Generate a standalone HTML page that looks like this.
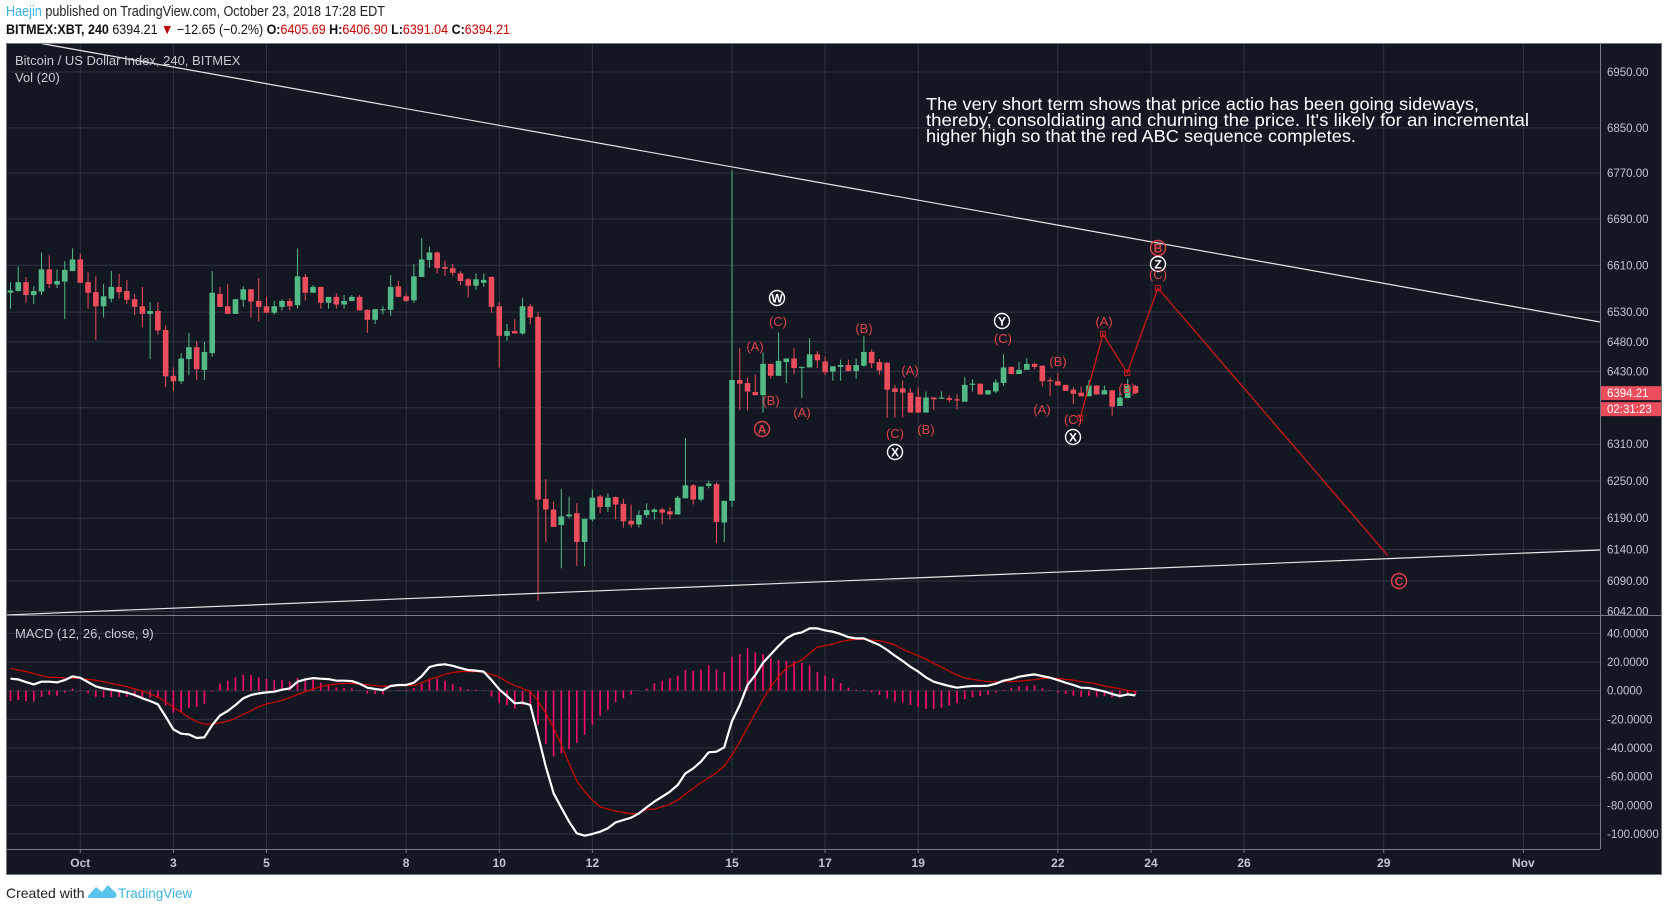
<!DOCTYPE html>
<html><head><meta charset="utf-8">
<style>
html,body{margin:0;padding:0;background:#fff;}
svg{display:block;font-family:"Liberation Sans",sans-serif;}
</style></head>
<body>
<svg id="chart" xmlns="http://www.w3.org/2000/svg" width="1668" height="911" viewBox="0 0 1668 911">
  <rect x="0" y="0" width="1668" height="911" fill="#ffffff"/>
  <text x="6" y="16" font-size="14.5" fill="#222" textLength="379" lengthAdjust="spacingAndGlyphs"><tspan fill="#3bb3e4">Haejin</tspan> published on TradingView.com, October 23, 2018 17:28 EDT</text>
  <text x="6" y="34" font-size="14" fill="#111" textLength="504" lengthAdjust="spacingAndGlyphs"><tspan font-weight="bold">BITMEX:XBT, 240</tspan> 6394.21 <tspan fill="#b00">▼</tspan> −12.65 (−0.2%) <tspan font-weight="bold">O:</tspan><tspan fill="#c00">6405.69</tspan> <tspan font-weight="bold">H:</tspan><tspan fill="#c00">6406.90</tspan> <tspan font-weight="bold">L:</tspan><tspan fill="#c00">6391.04</tspan> <tspan font-weight="bold">C:</tspan><tspan fill="#c00">6394.21</tspan></text>
  <rect x="6.5" y="43.5" width="1655" height="831" fill="#131722" stroke="#787b86"/>
  <g id="grid"></g>
  <g id="macdG"></g>
  <g id="candlesG"></g>
  <g id="drawG"></g>
  <g id="axisG"></g>
  <text x="15" y="65" font-size="13" fill="#c8cad0">Bitcoin / US Dollar Index, 240, BITMEX</text>
  <text x="15" y="82" font-size="13" fill="#c8cad0">Vol (20)</text>
  <text x="15" y="638" font-size="13" fill="#c8cad0">MACD (12, 26, close, 9)</text>
  <g font-size="17.5" fill="#ffffff">
    <text x="926" y="110" textLength="553" lengthAdjust="spacingAndGlyphs">The very short term shows that price actio has been going sideways,</text>
    <text x="926" y="126" textLength="603" lengthAdjust="spacingAndGlyphs">thereby, consoldiating and churning the price. It's likely for an incremental</text>
    <text x="926" y="142" textLength="430" lengthAdjust="spacingAndGlyphs">higher high so that the red ABC sequence completes.</text>
  </g>
  <text x="6" y="898" font-size="14" fill="#222">Created with</text>
  <g>
    <path d="M88 896 L96 887 L102 892 L108 885 L116 893 Q118 898 112 898 L92 898 Q86 898 88 896 Z" fill="#5bc2ec"/>
    <text x="118" y="898" font-size="13.5" fill="#3bb3e4">TradingView</text>
  </g>
</svg>
<script>
// ---- data ----
const opens = [6563,6566,6581,6559,6565,6603,6577,6582,6600,6620,6581,6564,6540,6553,6573,6566,6552,6540,6527,6532,6500,6423,6414,6451,6471,6433,6461,6561,6540,6527,6551,6569,6549,6540,6529,6539,6549,6542,6590,6563,6573,6546,6556,6543,6549,6556,6534,6517,6534,6534,6574,6557,6550,6590,6619,6632,6607,6605,6596,6586,6575,6580,6590,6540,6490,6498,6494,6540,6522,6221,6204,6179,6193,6198,6152,6188,6225,6208,6224,6213,6186,6180,6195,6200,6204,6201,6196,6222,6243,6220,6242,6245,6183,6218,6416,6411,6396,6391,6443,6423,6446,6452,6436,6437,6459,6447,6430,6438,6441,6431,6440,6463,6446,6445,6402,6402,6395,6388,6362,6387,6385,6386,6384,6380,6408,6410,6392,6397,6411,6438,6426,6433,6443,6440,6416,6414,6408,6400,6395,6389,6407,6392,6399,6373,6386,6406];
const highs = [6581,6608,6590,6574,6632,6627,6603,6617,6639,6630,6598,6591,6578,6600,6595,6585,6561,6573,6547,6547,6508,6437,6461,6495,6481,6480,6600,6573,6578,6552,6574,6569,6588,6556,6549,6552,6554,6639,6595,6576,6573,6556,6562,6559,6559,6559,6535,6535,6540,6593,6583,6562,6612,6657,6642,6634,6618,6612,6600,6588,6596,6596,6591,6547,6510,6518,6554,6544,6530,6253,6217,6237,6225,6214,6189,6236,6228,6230,6225,6221,6212,6203,6214,6206,6207,6208,6226,6320,6245,6241,6251,6248,6218,6775,6470,6420,6425,6462,6443,6496,6452,6469,6438,6486,6464,6455,6439,6450,6450,6452,6490,6467,6451,6445,6408,6415,6402,6404,6397,6387,6397,6391,6392,6421,6417,6410,6399,6417,6459,6438,6446,6453,6445,6440,6421,6428,6408,6404,6405,6416,6407,6407,6399,6399,6418,6408];
const lows = [6536,6565,6546,6544,6559,6571,6571,6518,6600,6580,6536,6483,6521,6547,6553,6544,6525,6505,6451,6492,6404,6398,6410,6424,6416,6416,6455,6539,6527,6527,6539,6521,6514,6529,6526,6533,6533,6536,6550,6563,6536,6536,6536,6536,6549,6533,6495,6510,6526,6524,6556,6548,6546,6590,6605,6596,6592,6592,6576,6555,6568,6573,6529,6437,6482,6494,6492,6509,6059,6152,6176,6110,6190,6114,6113,6185,6198,6200,6188,6175,6175,6175,6191,6188,6180,6188,6196,6222,6212,6217,6238,6150,6152,6208,6366,6365,6390,6362,6418,6423,6411,6426,6386,6437,6436,6424,6415,6415,6431,6418,6438,6436,6425,6353,6354,6354,6362,6362,6362,6366,6385,6379,6367,6380,6397,6392,6392,6394,6406,6426,6426,6433,6434,6405,6389,6407,6398,6376,6389,6389,6392,6392,6357,6373,6386,6393];
const closes = [6567,6581,6559,6566,6603,6578,6583,6602,6620,6580,6563,6540,6557,6573,6564,6551,6539,6527,6532,6499,6422,6414,6452,6471,6434,6463,6563,6539,6527,6552,6569,6548,6539,6529,6540,6549,6540,6591,6563,6573,6546,6556,6543,6549,6556,6533,6517,6535,6535,6573,6556,6549,6591,6620,6632,6605,6604,6597,6583,6575,6586,6585,6539,6490,6498,6494,6540,6521,6220,6204,6176,6193,6196,6152,6189,6223,6208,6223,6212,6185,6180,6195,6203,6204,6199,6196,6223,6243,6220,6241,6246,6184,6218,6416,6410,6397,6391,6443,6423,6448,6452,6436,6438,6459,6449,6429,6439,6441,6431,6441,6463,6444,6432,6400,6396,6395,6362,6362,6387,6384,6387,6383,6382,6408,6410,6392,6399,6412,6437,6426,6433,6443,6438,6414,6414,6407,6398,6393,6389,6407,6392,6399,6372,6387,6406,6394];
const macdLine = [8.4,7.9,6.0,4.4,6.3,6.3,5.8,7.4,10,9,6,3,1.6,0.7,-0.2,-1.4,-3,-5.3,-7.2,-9.5,-18,-27,-30,-30.5,-33,-32.5,-24,-17.4,-14.2,-10,-5.3,-3,-1.9,-1.2,-0.7,0.7,1.6,6.3,7.9,8.8,8.4,8.1,7,7,6.7,4.9,2.1,1.2,0.5,3.3,4,4,5.6,10.2,16.5,17.9,18.4,17.4,15.8,14.4,14,13.3,7.4,0.9,-3.7,-8.8,-8.4,-10,-31,-53,-71.6,-81.6,-91.4,-99.5,-101.2,-100,-98.4,-96,-91.9,-90.2,-88.6,-85.6,-81.4,-77.4,-74,-70.5,-65.8,-57.7,-54.2,-49.5,-43,-42.6,-39.5,-21.2,-10,4,10.9,19.5,25.3,31.2,36.5,39.5,40.7,43.5,43.5,42.1,41.2,39.5,37.4,36.5,36.5,34.2,31.9,28.4,24.4,20.7,16.7,13.3,9.3,6.3,4.7,3.3,2.1,2.8,3.3,3.3,3.5,4.9,7,8.1,9.8,10.7,11.4,10.2,9.1,7.4,5.6,4,2.1,1.9,0.7,-0.5,-2.3,-3.7,-2.6,-3.3];
const signalLine = [15.6,14.4,13.3,11.9,10.5,9.3,9.3,8.8,8.6,8.6,7.9,7.2,6.3,5.1,4,2.8,1.2,-0.2,-2.3,-4.4,-7.7,-11.6,-15.1,-18.6,-21.6,-23.3,-23.3,-22.3,-21.2,-19.3,-16.5,-14,-11.2,-9.3,-8.1,-6.7,-4.9,-2.6,-0.7,1.2,2.8,4,4.7,5.1,5.1,4.7,4.2,3.5,3,3.3,3.5,3.5,3.7,5.6,7.9,9.5,11.4,12.8,13.3,13.5,13.3,13,11.4,9.5,6.3,3.5,1.6,-0.7,-7.2,-15.8,-25.8,-37.9,-50.7,-63,-70.5,-76.3,-81,-82.6,-84,-84.9,-86,-85.6,-82.8,-82.6,-81,-79.3,-76.3,-72.1,-68.1,-64.2,-60.7,-57.2,-52.6,-44.9,-35.6,-25.6,-15.8,-6,2.8,9.8,15.6,19,21.4,26,30.5,31.4,32.6,34.2,35.3,35.8,35.8,35.3,34.9,33.7,31.9,28.8,26.7,24.4,21.9,19.1,16.5,13.7,10.9,8.8,7.9,7,6.3,6.3,6.3,6.3,6.7,7.2,7.7,8.6,8.6,8.6,7.9,7.4,6.3,5.6,4.7,3.3,2.3,1.4,0.2,-0.7];
const priceTicks = [6950,6850,6770,6690,6610,6530,6480,6430,6310,6250,6190,6140,6090,6042];
const priceTickLabels = ["6950.00","6850.00","6770.00","6690.00","6610.00","6530.00","6480.00","6430.00","6310.00","6250.00","6190.00","6140.00","6090.00","6042.00"];
const priceGridExtra = [6370];
const macdTicks = [40,20,0,-20,-40,-60,-80,-100];
const macdTickLabels = ["40.0000","20.0000","0.0000","-20.0000","-40.0000","-60.0000","-80.0000","-100.0000"];
const dateDays = [1,3,5,8,10,12,15,17,19,22,24,26,29,32];
const dateLabels = ["Oct","3","5","8","10","12","15","17","19","22","24","26","29","Nov"];
const lastPrice = 6394.21;
const abcPath = [[22.48,6353],[22.97,6493],[23.49,6428],[24.15,6571],[29.09,6130]];

// ---- scales ----
const NS = "http://www.w3.org/2000/svg";
function xDay(d){ return 80.3 + (d-1)*46.55; }
function xCandle(i){ return xDay(15 + (i-93)/6); }
function yPrice(p){ return 72 + 3853*(Math.log(6950) - Math.log(p)); }
function yMacd(v){ return 690.7 - v*1.433; }
const PL=7, PR=1600;
function mk(tag, attrs, parent){
  const e=document.createElementNS(NS,tag);
  for(const k in attrs) e.setAttribute(k, attrs[k]);
  parent.appendChild(e); return e;
}
const grid=document.getElementById('grid');
const axisG=document.getElementById('axisG');
const candlesG=document.getElementById('candlesG');
const macdG=document.getElementById('macdG');
const drawG=document.getElementById('drawG');
const GC="#2f3444";
priceTicks.concat(priceGridExtra).forEach(function(p){
  const l=mk('line',{x1:PL,x2:PR,y1:yPrice(p),y2:yPrice(p),stroke:GC,'stroke-width':1},grid);
  
  
});
priceTicks.forEach(function(p,k){
  const t=mk('text',{x:1607,y:yPrice(p)+4,'font-size':11.5,fill:'#c3c6ce'},axisG);
  t.textContent=priceTickLabels[k];
  
  
});
macdTicks.forEach(function(v,k){
  const l=mk('line',{x1:PL,x2:PR,y1:yMacd(v),y2:yMacd(v),stroke:GC,'stroke-width':1},grid);
  
  
  const t=mk('text',{x:1607,y:yMacd(v)+4,'font-size':11.5,fill:'#c3c6ce'},axisG);
  t.textContent=macdTickLabels[k];
  
  
});
dateDays.forEach(function(d,k){
  const x=xDay(d);
  const l=mk('line',{x1:x,x2:x,y1:44,y2:849,stroke:GC,'stroke-width':1},grid);
  
  
  mk('line',{x1:x,x2:x,y1:849,y2:853,stroke:'#787b86'},axisG);
  const t=mk('text',{x:x,y:867,'font-size':12,'font-weight':'bold',fill:'#c3c6ce','text-anchor':'middle'},axisG);
  t.textContent=dateLabels[k];
  
  
});
const sep1=mk('line',{x1:1600.5,x2:1600.5,y1:44,y2:849,stroke:'#787b86'},axisG);


const sep2=mk('line',{x1:7,x2:1661,y1:615.5,y2:615.5,stroke:'#787b86'},axisG);


const sep3=mk('line',{x1:7,x2:1600,y1:849.5,y2:849.5,stroke:'#787b86'},axisG);


for(let i=0;i<opens.length;i++){
  const o=opens[i],c=closes[i],h=highs[i],lo=lows[i];
  const up=c>=o; const col=up?'#53b987':'#eb4d5c';
  const x=xCandle(i);
  const g=mk('g',{},candlesG);
  
  
  mk('line',{x1:x,x2:x,y1:yPrice(h),y2:yPrice(lo),stroke:col,'stroke-width':1},g);
  const yt=yPrice(Math.max(o,c)), yb=yPrice(Math.min(o,c));
  mk('rect',{x:x-2.8,y:yt,width:5.6,height:Math.max(1,yb-yt),fill:col},g);
}
for(let i=0;i<macdLine.length;i++){
  const hv=macdLine[i]-signalLine[i];
  const x=xCandle(i);
  const b=mk('line',{x1:x,x2:x,y1:yMacd(0),y2:yMacd(hv),stroke:'#ff0f6b','stroke-width':1.6},macdG);
  
  
}
function poly(arr,stroke,w,name){
  const pts=arr.map(function(v,i){return xCandle(i).toFixed(1)+','+yMacd(v).toFixed(1);}).join(' ');
  const p=mk('polyline',{points:pts,fill:'none',stroke:stroke,'stroke-width':w,'stroke-linejoin':'round'},macdG);
  
  
}
poly(signalLine,'#d40000',1.2,'signal-line');
poly(macdLine,'#ffffff',2.2,'macd-line');
const clip=mk('clipPath',{id:'pclip'},drawG);
mk('rect',{x:7,y:44,width:1593,height:571},clip);
const tl1=mk('line',{x1:42,y1:43.6,x2:1600,y2:322,stroke:'#e6e6e6','stroke-width':1.2,'clip-path':'url(#pclip)'},drawG);


const tl2=mk('line',{x1:6,y1:615,x2:1600,y2:550,stroke:'#e6e6e6','stroke-width':1.2,'clip-path':'url(#pclip)'},drawG);


const pts=abcPath.map(function(p){return xDay(p[0]).toFixed(1)+','+yPrice(p[1]).toFixed(1);}).join(' ');
const ap=mk('polyline',{points:pts,fill:'none',stroke:'#d01818','stroke-width':1.3},drawG);


abcPath.slice(0,4).forEach(function(p){
  const r=mk('rect',{x:xDay(p[0])-2.5,y:yPrice(p[1])-2.5,width:5,height:5,fill:'none',stroke:'#d01818','stroke-width':1},drawG);
  
  
});
const RED='#e0424c';
function lab(x,y,t){
  const e=mk('text',{x:x,y:y+5,'font-size':13,fill:RED,'text-anchor':'middle'},drawG);
  e.textContent=t;
  
  
}
function circ(x,y,t,col){
  const g=mk('g',{},drawG);
  
  
  mk('circle',{cx:x,cy:y,r:7.5,fill:col==='#ffffff'?'#131722':'none',stroke:col,'stroke-width':1.4},g);
  const e=mk('text',{x:x,y:y+4.5,'font-size':12,'font-weight':'bold',fill:col,'text-anchor':'middle'},g);
  e.textContent=t;
}
const W='#ffffff';
circ(777,298,'W',W); lab(778,321,'(C)'); lab(755,346,'(A)'); lab(771,400,'(B)'); circ(762,429,'A',RED); lab(802,412,'(A)');
lab(864,328,'(B)'); lab(910,370,'(A)'); lab(895,433,'(C)'); circ(895,452,'X',W); lab(926,429,'(B)');
circ(1002,321,'Y',W); lab(1003,338,'(C)'); lab(1058,361,'(B)'); lab(1042,409,'(A)'); lab(1073,419,'(C)'); circ(1073,437,'X',W);
lab(1104,321,'(A)'); lab(1127,388,'(B)');
circ(1158,248,'B',RED); circ(1158,264,'Z',W); lab(1158,274,'(C)'); circ(1399,581,'C',RED);
const mg=mk('g',{},axisG);


const ly=yPrice(lastPrice);
mk('rect',{x:1601,y:ly-7,width:60,height:14,fill:'#eb4d5c'},mg);
const mt=mk('text',{x:1607,y:ly+4,'font-size':11.5,fill:'#fff'},mg); mt.textContent=lastPrice.toFixed(2);
mk('rect',{x:1601,y:ly+9,width:60,height:14,fill:'#eb4d5c'},mg);
const ct=mk('text',{x:1607,y:ly+20,'font-size':11.5,fill:'#fff'},mg); ct.textContent='02:31:23';
</script>
</body></html>
